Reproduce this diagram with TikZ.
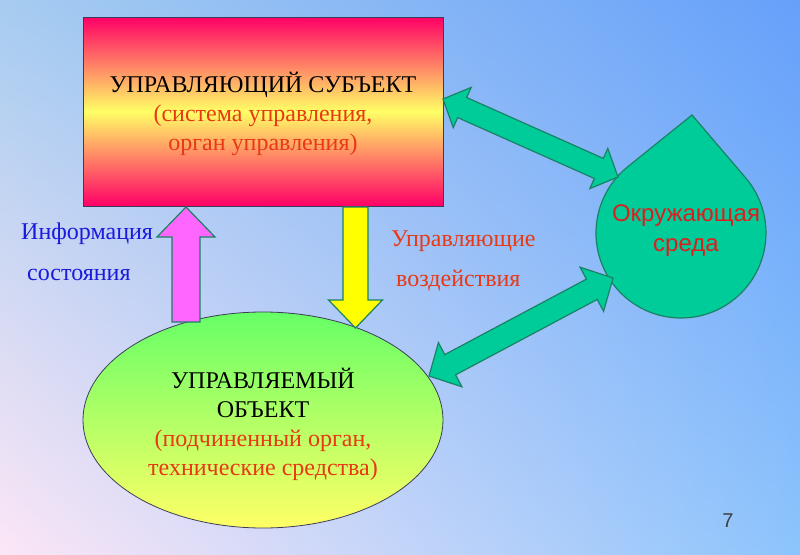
\documentclass[tikz,border=0pt]{standalone}
\usepackage{fontspec}
\setmainfont{Liberation Serif}
\newfontfamily\arialf{Liberation Sans}
\usetikzlibrary{calc,shapes.geometric,shadings}
\definecolor{bgUL}{RGB}{166,204,240}
\definecolor{bgUR}{RGB}{102,160,250}
\definecolor{bgLL}{RGB}{252,230,246}
\definecolor{bgLR}{RGB}{140,196,252}
\definecolor{hotpink}{RGB}{255,0,102}
\definecolor{softyellow}{RGB}{255,255,102}
\definecolor{limegreen}{RGB}{102,255,102}
\definecolor{tealfill}{RGB}{0,204,153}
\definecolor{tealline}{RGB}{26,130,100}
\definecolor{boxline}{RGB}{60,60,90}
\definecolor{redtext}{RGB}{232,56,20}
\definecolor{bluetext}{RGB}{26,26,220}
\definecolor{droptext}{RGB}{220,30,30}
\definecolor{pinkarrow}{RGB}{255,102,255}
\definecolor{yellowarrow}{RGB}{255,255,0}
\newcommand\dblarrow[6]{%
  \coordinate (#2h) at ($(#2)!#4!(#3)$);
  \coordinate (#3h) at ($(#3)!#4!(#2)$);
  \draw[#1] (#2) -- ($(#2h)!#5!90:(#3)$) -- ($(#2h)!#6!90:(#3)$)
    -- ($(#3h)!#6!-90:(#2)$) -- ($(#3h)!#5!-90:(#2)$) -- (#3)
    -- ($(#3h)!#5!90:(#2)$) -- ($(#3h)!#6!90:(#2)$)
    -- ($(#2h)!#6!-90:(#3)$) -- ($(#2h)!#5!-90:(#3)$) -- cycle;}
\newcommand\sglarrow[6]{%
  \coordinate (#3h) at ($(#3)!#4!(#2)$);
  \draw[#1] ($(#2)!#6!90:(#3)$) -- ($(#3h)!#6!-90:(#2)$) -- ($(#3h)!#5!-90:(#2)$)
    -- (#3) -- ($(#3h)!#5!90:(#2)$) -- ($(#3h)!#6!90:(#2)$)
    -- ($(#2)!#6!-90:(#3)$) -- cycle;}
\begin{document}
\begin{tikzpicture}[x=1pt,y=-1pt,
  bigtext/.style={font=\fontsize{24}{29}\selectfont, align=center, inner sep=0pt},
  labeltext/.style={font=\fontsize{24}{29}\selectfont, inner sep=0pt, anchor=west},
  tealarrow/.style={draw=tealline, line width=1.2pt, fill=tealfill, line join=miter},
  pinkstyle/.style={draw=tealline, line width=1.2pt, fill=pinkarrow},
  yellowstyle/.style={draw=tealline, line width=1.2pt, fill=yellowarrow}]
\shade[upper left=bgUL, upper right=bgUR, lower left=bgLL, lower right=bgLR] (0,0) rectangle (800,554);
\useasboundingbox (0,0) rectangle (800,554);
% managing subject
\node[draw=boxline, line width=0.8pt, minimum width=360pt, minimum height=189pt,
  top color=hotpink, bottom color=hotpink, middle color=softyellow, inner sep=0pt] (subj) at (263,111.5) {};
\node[bigtext] (subjtext) at (263,114) {УПРАВЛЯЮЩИЙ СУБЪЕКТ\\\textcolor{redtext}{(система управления,}\\\textcolor{redtext}{орган управления)}};
% managed object
\node[ellipse, draw=boxline, line width=0.8pt, minimum width=360pt, minimum height=216pt,
  top color=limegreen, bottom color=softyellow, inner sep=0pt] (obj) at (263,420) {};
\node[bigtext] (objtext) at (263,424) {УПРАВЛЯЕМЫЙ\\ОБЪЕКТ\\\textcolor{redtext}{(подчиненный орган,}\\\textcolor{redtext}{технические средства)}};
% environment drop
\draw[draw=tealline, line width=1.2pt, fill=tealfill] (692,115) -- (745.6,177.8)
  arc[start angle=-40.5, end angle=231.1, radius=85] -- cycle;
\node[font=\arialf\fontsize{24}{30}\selectfont, text=droptext, align=center, inner sep=0pt] (env) at (686,231) {Окружающая\\среда};
% connectors
\coordinate (s1) at (443,99);
\coordinate (d1) at (618,177);
\coordinate (d2) at (613,278);
\coordinate (o2) at (429,376);
\dblarrow{tealarrow}{s1}{d1}{21pt}{22pt}{11pt}
\dblarrow{tealarrow}{d2}{o2}{24pt}{25pt}{11.5pt}
\coordinate (pt) at (186,322);
\coordinate (pp) at (186,207);
\coordinate (yt) at (355.5,207);
\coordinate (yp) at (355.5,328);
\sglarrow{pinkstyle}{pt}{pp}{30pt}{29pt}{14pt}
\sglarrow{yellowstyle}{yt}{yp}{28pt}{27pt}{12.5pt}
% labels
\node[labeltext, text=bluetext] (info1) at (21,234) {Информация};
\node[labeltext, text=bluetext] (info2) at (27,275) {состояния};
\node[labeltext, text=redtext] (ctrl1) at (391,241) {Управляющие};
\node[labeltext, text=redtext] (ctrl2) at (396,281) {воздействия};
\node[font=\arialf\fontsize{20}{24}\selectfont, text=black!75, inner sep=0pt] (pagenum) at (728,521) {7};
\end{tikzpicture}
\end{document}
